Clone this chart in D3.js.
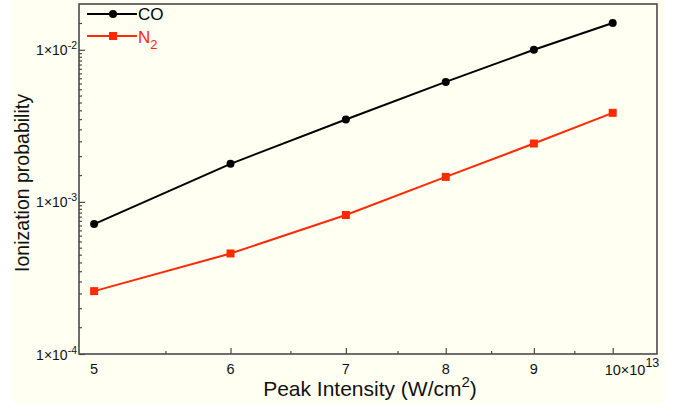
<!DOCTYPE html>
<html>
<head>
<meta charset="utf-8">
<script src="https://cdn.jsdelivr.net/npm/d3@7"></script>
<style>
  html, body { margin: 0; padding: 0; background: #ffffff; }
  svg { display: block; font-family: "Liberation Sans", Arial, Helvetica, sans-serif; }
</style>
</head>
<body>
<svg id="chart" width="690" height="409"></svg>
<script>
// Peak intensity in units of 10^13 W/cm^2
const intensity = [5, 6, 7, 8, 9, 10];
// Ionization probability for each molecule
const coProb = [7.15e-4, 1.78e-3, 3.48e-3, 6.15e-3, 1.0e-2, 1.5e-2];
const n2Prob = [2.59e-4, 4.58e-4, 8.2e-4, 1.46e-3, 2.42e-3, 3.85e-3];
// Tick labels
const xTickLabels = ["5", "6", "7", "8", "9"];
const yTickExponents = [-4, -3, -2];

const svg = d3.select("#chart");
const plot = { left: 79, top: 4, right: 657, bottom: 354 };

// cream panel behind the chart
svg.append("rect").attr("x", 12).attr("y", 0).attr("width", 653).attr("height", 403)
  .attr("fill", "#fffff2");

const x = d3.scaleLog().domain([4.9, 10.61]).range([plot.left, plot.right]);
const y = d3.scaleLog().domain([1e-4, 2e-2]).range([plot.bottom, plot.top]);

const axisColor = "#4a4a4a";

// x ticks: half steps, integer ones longer
const xTicks = d3.range(5.5, 10.01, 0.5);
const xAxis = svg.append("g").attr("transform", `translate(0,${plot.bottom})`)
  .call(d3.axisBottom(x).tickValues(xTicks).tickFormat("").tickSizeOuter(0)
        .tickSizeInner(0));
xAxis.select(".domain").remove();
xAxis.selectAll(".tick line")
  .attr("y2", d => Number.isInteger(d) ? -6 : -3)
  .attr("stroke", axisColor).attr("stroke-width", 1.2);

// y ticks: half-step mantissas within each decade
const yTicks = [];
for (const e of [-4, -3, -2]) {
  for (let m = 1; m < 10; m += 0.5) {
    const v = m * Math.pow(10, e);
    if (v >= 1e-4 && v < 2e-2) yTicks.push(v);
  }
}
const yAxis = svg.append("g").attr("transform", `translate(${plot.left},0)`)
  .call(d3.axisLeft(y).tickValues(yTicks).tickFormat("").tickSizeOuter(0).tickSizeInner(0));
yAxis.select(".domain").remove();
yAxis.selectAll(".tick line")
  .attr("x2", d => {
    const m = d / Math.pow(10, Math.floor(Math.log10(d) + 1e-9));
    return Math.abs(m - 1) < 1e-6 ? 6 : 3;
  })
  .attr("stroke", axisColor).attr("stroke-width", 1.2);

// frame
svg.append("rect")
  .attr("x", plot.left).attr("y", plot.top)
  .attr("width", plot.right - plot.left).attr("height", plot.bottom - plot.top)
  .attr("fill", "none").attr("stroke", axisColor).attr("stroke-width", 1.6);

// x tick labels
svg.append("g").selectAll("text").data(xTickLabels).join("text")
  .attr("x", d => x(+d)).attr("y", 374)
  .attr("text-anchor", "middle").attr("font-size", 14.5).attr("fill", "#111")
  .text(d => d);
const lastLab = svg.append("text").attr("x", x(10) - 8).attr("y", 375)
  .attr("font-size", 14.5).attr("fill", "#111");
lastLab.append("tspan").text("10\u00d710");
lastLab.append("tspan").attr("font-size", 12.5).attr("dy", -8).text("13");

// y tick labels, right edge at the axis
yTickExponents.forEach(e => {
  const t = svg.append("text").attr("y", y(Math.pow(10, e)) + 5.5)
    .attr("font-size", 14).attr("fill", "#111");
  t.append("tspan").text("1\u00d710");
  t.append("tspan").attr("font-size", 10.5).attr("dy", -6).text(String(e));
  const w = t.node().getComputedTextLength();
  t.attr("x", 77 - w);
});

// axis titles
const xt = svg.append("text").attr("x", 370).attr("y", 396).attr("text-anchor", "middle")
  .attr("font-size", 21).attr("fill", "#111");
xt.append("tspan").text("Peak Intensity (W/cm");
xt.append("tspan").attr("font-size", 15).attr("dy", -9).text("2");
xt.append("tspan").attr("dy", 9).text(")");

svg.append("text").attr("transform", "translate(29,183) rotate(-90)")
  .attr("text-anchor", "middle").attr("font-size", 19.5).attr("fill", "#111")
  .text("Ionization probability");

// series
const series = [
  { name: "CO", values: coProb, color: "#000000", shape: "circle" },
  { name: "N2", values: n2Prob, color: "#ff2a00", shape: "square" }
];
const line = d3.line().x(d => x(d[0])).y(d => y(d[1]));

series.forEach(s => {
  const pts = intensity.map((v, i) => [v, s.values[i]]);
  svg.append("path").datum(pts).attr("d", line)
    .attr("fill", "none").attr("stroke", s.color).attr("stroke-width", 2);
  if (s.shape === "circle") {
    svg.append("g").selectAll("circle").data(pts).join("circle")
      .attr("cx", d => x(d[0])).attr("cy", d => y(d[1])).attr("r", 4)
      .attr("fill", s.color);
  } else {
    svg.append("g").selectAll("rect").data(pts).join("rect")
      .attr("x", d => x(d[0]) - 4).attr("y", d => y(d[1]) - 4)
      .attr("width", 8).attr("height", 8).attr("fill", s.color);
  }
});

// legend
const legend = svg.append("g");
legend.append("line").attr("x1", 87).attr("x2", 137).attr("y1", 14).attr("y2", 14)
  .attr("stroke", "#000").attr("stroke-width", 2);
legend.append("circle").attr("cx", 113).attr("cy", 14).attr("r", 4).attr("fill", "#000");
legend.append("text").attr("x", 138).attr("y", 20).attr("font-size", 17).attr("fill", "#000").text("CO");

legend.append("line").attr("x1", 87).attr("x2", 137).attr("y1", 36).attr("y2", 36)
  .attr("stroke", "#ff2a00").attr("stroke-width", 2);
legend.append("rect").attr("x", 109).attr("y", 32).attr("width", 8).attr("height", 8).attr("fill", "#ff2a00");
const n2t = legend.append("text").attr("x", 138).attr("y", 42.5).attr("font-size", 17).attr("fill", "#ff2a00");
n2t.append("tspan").text("N");
n2t.append("tspan").attr("font-size", 13).attr("dy", 6).text("2");
</script>
</body>
</html>
